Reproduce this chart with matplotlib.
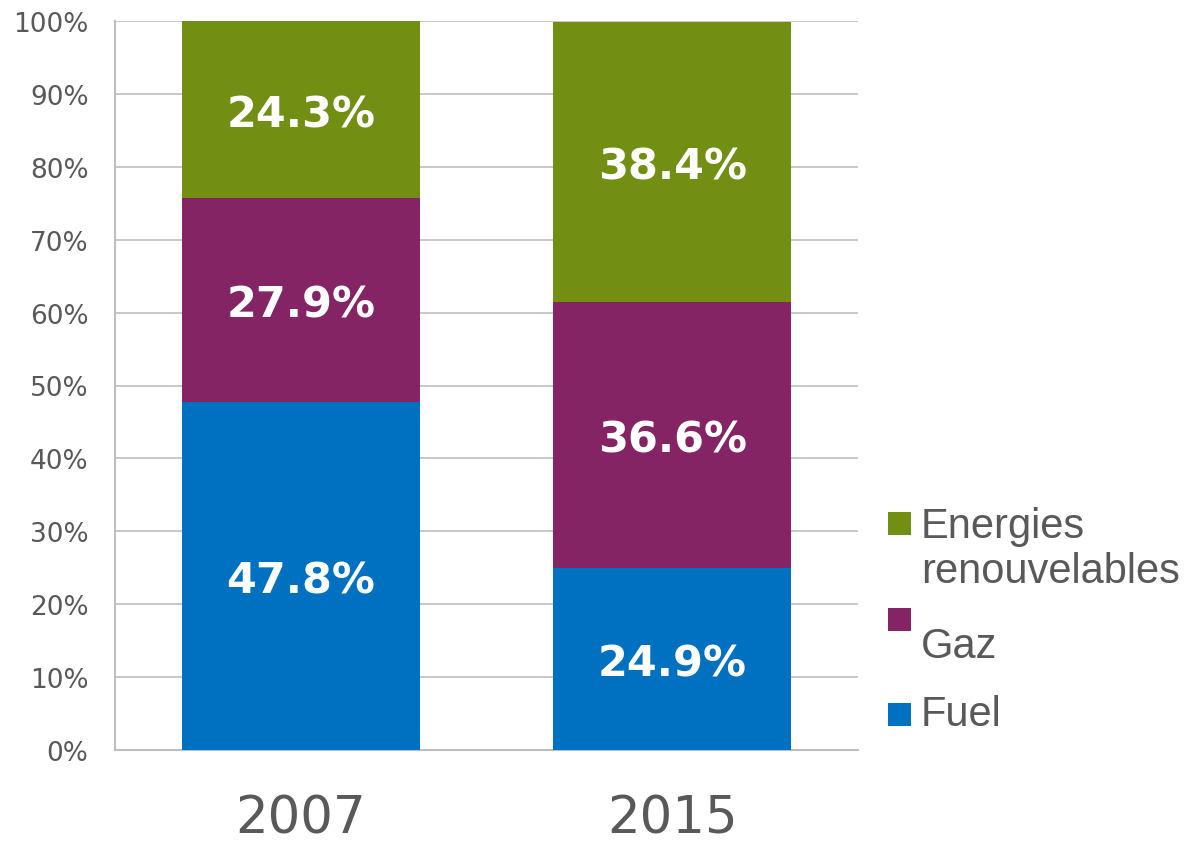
import matplotlib.pyplot as plt
from matplotlib.patches import Rectangle
import numpy as np

years = ['2007', '2015']
fuel = [47.8, 24.9]
gaz = [27.9, 36.6]
renouv = [24.3, 38.4]

series_names = ['Fuel', 'Gaz', 'Energies renouvelables']
series_colors = ['#0070C0', '#852464', '#728F14']
grey_text = '#595959'

fig = plt.figure(figsize=(11.9, 8.45), dpi=100)
ax = fig.add_axes([115 / 1190, 1 - 751 / 845, 743 / 1190, 729 / 845])

x = np.arange(len(years))
bottom = np.zeros(len(years))
for vals, color in zip([fuel, gaz, renouv], series_colors):
    vals = np.array(vals)
    ax.bar(x, vals, 0.64, bottom=bottom, color=color, zorder=3)
    for xi, b, v in zip(x, bottom, vals):
        ax.text(xi, b + v / 2, f'{v:.1f}%', ha='center', va='center_baseline',
                color='white', fontsize=31, fontweight='bold',
                family='DejaVu Sans', zorder=4)
    bottom = bottom + vals

ax.set_xlim(-0.5, 1.5)
ax.set_ylim(0, 100)
ax.set_yticks(np.arange(0, 101, 10))
ax.set_yticklabels([f'{t}%' for t in range(0, 101, 10)])
ax.set_xticks(x)
ax.set_xticklabels(years)
ax.yaxis.grid(True, color='#BFBFBF', linewidth=1.2, zorder=0)
ax.tick_params(axis='y', length=0, pad=19, labelsize=19, labelcolor=grey_text)
ax.tick_params(axis='x', length=0, pad=31, labelsize=37, labelcolor=grey_text)
for side in ['top', 'right']:
    ax.spines[side].set_visible(False)
for side in ['left', 'bottom']:
    ax.spines[side].set_color('#BFBFBF')
    ax.spines[side].set_linewidth(1.5)

# legend drawn by hand to match the original layout
W, H = 1190, 845
legend_items = [
    (series_names[2], series_colors[2], 513, [538, 583]),
    (series_names[1], series_colors[1], 609, [658]),
    (series_names[0], series_colors[0], 704, [726]),
]
for label, color, sq_top, baselines in legend_items:
    fig.patches.append(Rectangle((888 / W, 1 - (sq_top + 23) / H), 23 / W, 23 / H,
                                 transform=fig.transFigure, facecolor=color,
                                 edgecolor='none'))
    words = label.split(' ')
    for word, base in zip(words, baselines):
        fig.text(921 / W, 1 - base / H, word, ha='left', va='baseline',
                 fontsize=30, color=grey_text, family='Liberation Sans')

fig.savefig('out.png', dpi=100)
